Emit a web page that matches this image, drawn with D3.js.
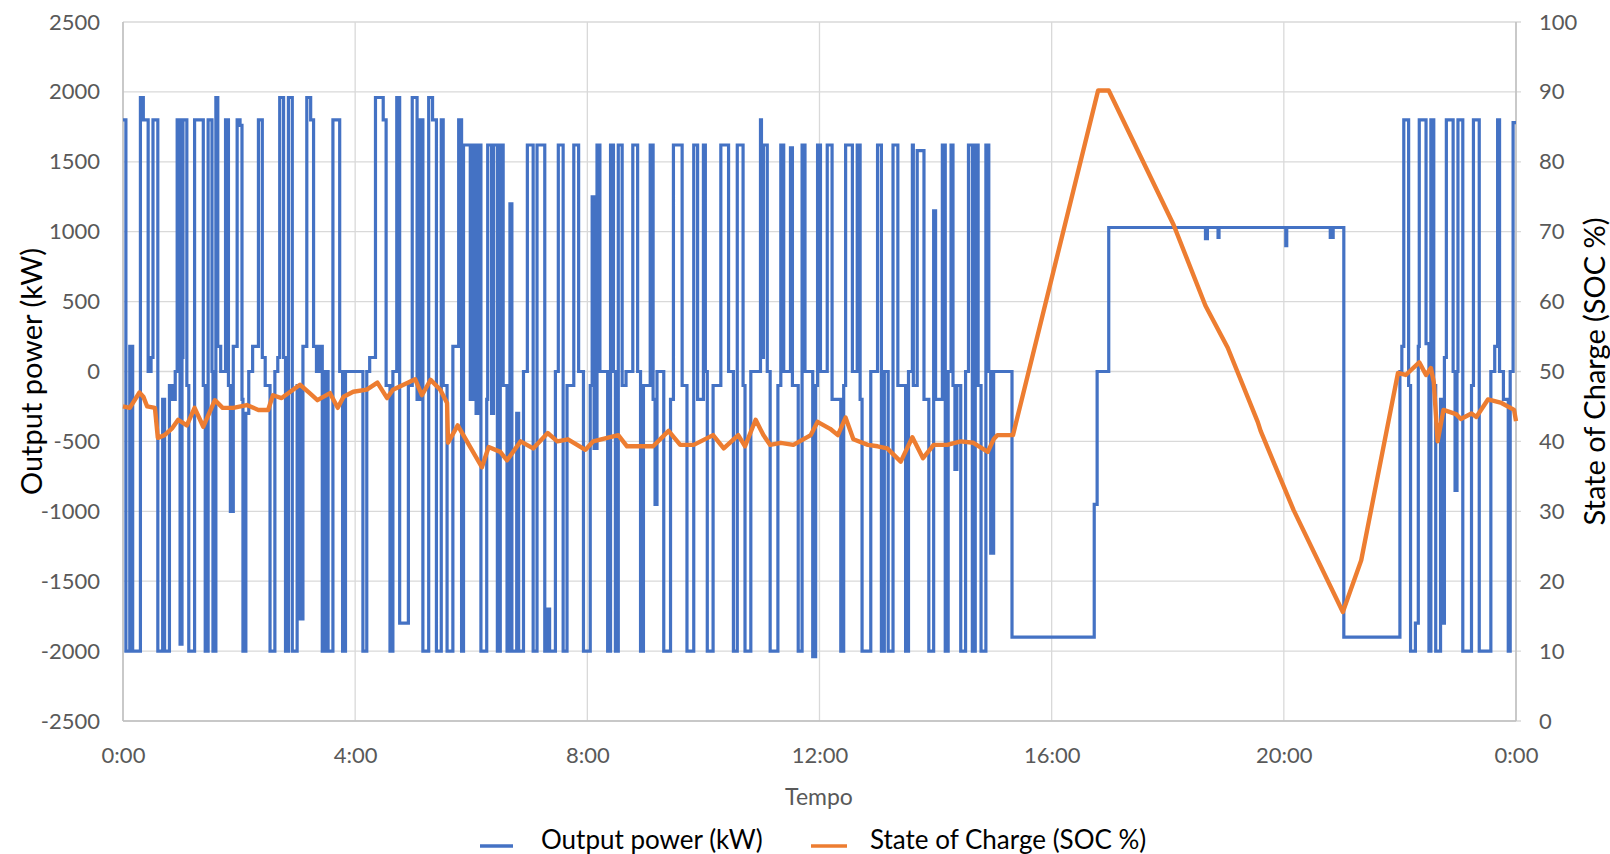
<!DOCTYPE html>
<html><head><meta charset="utf-8">
<script src="https://cdn.jsdelivr.net/npm/d3@7"></script>
<style>body{margin:0;background:#fff;} text{font-family:Lato,"Open Sans",sans-serif;}</style>
</head><body><svg id="c" width="1610" height="854"></svg>
<script>
// ---- data (time in minutes since 0:00) ----
const powerTime = [0,3,7,10,18,21,26,29,31,36,41,43,48,51,54,56,59,61,62,66,68,74,83,85,88,92,93,96,98,101,106,109,111,114,118,121,123,124,127,130,134,140,144,147,152,157,160,162,166,168,171,175,180,183,186,190,194,197,200,203,206,209,212,217,224,227,230,248,252,255,261,269,272,276,279,283,286,295,299,304,307,310,316,320,324,329,331,335,341,347,350,352,359,362,365,367,370,376,377,381,383,387,390,393,397,400,402,407,409,414,418,424,428,436,439,441,447,450,455,459,466,471,476,483,485,487,490,493,501,504,507,509,512,516,520,527,532,535,538,545,548,550,552,559,566,569,578,583,590,594,600,602,604,610,618,626,631,635,641,643,649,659,660,662,666,669,677,680,683,690,692,698,702,705,713,716,718,721,728,733,742,745,747,754,759,762,764,773,780,784,787,791,796,801,809,812,816,817,821,828,833,838,840,847,850,853,856,858,860,862,866,871,874,878,881,884,887,892,895,897,900,919,1004,1007,1019,1119,1121,1132,1133,1202,1203,1248,1251,1262,1320,1322,1324,1329,1331,1336,1339,1340,1347,1350,1352,1355,1357,1362,1364,1366,1368,1375,1377,1379,1380,1385,1394,1396,1402,1414,1418,1421,1423,1427,1432,1434,1437,1440];
const powerKW = [1800,-2000,180,-2000,1960,1800,0,100,1800,-2000,-200,-2000,-100,-200,0,1800,-1950,100,1800,-100,-2000,1800,-100,-2000,1800,0,-2000,1960,180,0,1800,-100,-1000,180,1800,1760,-200,-2000,-300,0,180,1800,100,-100,-2000,0,100,1960,100,-2000,1960,-2000,-100,-1770,180,1960,1800,180,0,180,-2000,0,-2000,1800,0,-2000,0,-2000,0,100,1960,1800,-100,-2000,0,1960,-1800,-100,1960,-200,1800,-2000,1960,1800,-2000,1800,-100,-2000,180,1800,-2000,1620,-200,1620,-300,1620,-2000,-200,1620,-300,1620,-2000,1620,-100,-2000,1200,-2000,-300,-2000,0,1620,-2000,1620,-2000,-1700,-2000,0,1620,-2000,-100,1620,0,-2000,-100,1250,-550,1620,0,-2000,1620,0,-2000,1620,-100,0,1620,0,-2000,-100,1620,-200,-950,0,-2000,-200,1620,-100,-2000,1620,-200,1620,0,-2000,-100,1620,0,-2000,1620,-100,-2000,0,1800,100,1620,0,-2000,-100,1620,0,1600,-100,-2000,1620,0,-2040,-100,1620,0,1620,-200,-2000,-100,1620,0,1620,-200,-2000,0,1620,-2000,0,-2000,1620,-100,-2000,0,1620,-100,1580,-200,-2000,1150,-200,1620,-2000,0,1620,-100,-700,-100,-2000,0,1620,-2000,1620,-100,-2000,1620,0,-1300,0,-1900,-950,0,1030,950,1030,960,1030,900,1030,960,1030,-1900,0,180,1800,-100,-2000,-1800,180,1800,200,-2000,1800,-100,-2000,-200,-1800,100,1800,0,-850,0,1800,-2000,-100,1800,-2000,0,180,1800,0,-200,-2000,0,1780,1780];

const socTime = [0,7,17,21,25,33,36,43,51,57,66,74,83,95,103,114,128,140,150,155,164,183,193,201,214,222,228,238,252,263,273,279,302,309,318,328,335,336,346,356,371,378,390,397,411,424,439,449,460,478,486,512,521,548,564,576,590,610,621,636,643,654,662,669,680,693,711,718,731,739,747,755,770,780,790,804,816,827,838,852,866,879,894,900,904,920,1008,1019,1086,1119,1142,1173,1176,1210,1261,1280,1318,1326,1340,1347,1352,1355,1359,1365,1378,1383,1394,1399,1411,1425,1438,1440];
const socPct = [45.0,44.8,47.0,46.4,45.0,44.8,40.5,40.9,41.9,43.1,42.3,44.8,42.1,45.9,44.8,44.8,45.2,44.5,44.5,46.6,46.2,48.1,46.9,45.9,46.9,44.8,46.4,47.1,47.4,48.4,46.2,47.4,48.9,46.6,48.8,47.4,45.5,39.8,42.3,39.9,36.3,39.2,38.5,37.3,40.0,39.0,41.2,40.0,40.3,38.8,40.0,40.9,39.3,39.3,41.5,39.5,39.5,40.9,39.0,40.9,39.3,43.1,40.9,39.5,39.8,39.5,40.9,42.8,41.8,40.9,43.4,40.3,39.5,39.3,39.0,37.1,40.6,37.6,39.5,39.5,40.0,39.8,38.5,40.3,40.9,40.9,90.2,90.2,71.0,59.4,53.4,42.8,41.5,30.2,15.6,23.0,49.8,49.5,51.3,49.5,50.5,48.5,40.0,44.5,43.9,43.2,44.0,43.5,46.0,45.5,44.5,42.9];

const leftTicks = [-2500,-2000,-1500,-1000,-500,0,500,1000,1500,2000,2500];
const rightTicks = [0,10,20,30,40,50,60,70,80,90,100];
const timeTicks = [0,240,480,720,960,1200,1440];
const timeLabels = ["0:00","4:00","8:00","12:00","16:00","20:00","0:00"];
const seriesNames = ["Output power (kW)","State of Charge (SOC %)"];

// ---- layout ----
const L=123, R=1516, T=22, B=721;
const svg = d3.select("#c");
const x = d3.scaleLinear().domain([0,1440]).range([L,R]);
const yL = d3.scaleLinear().domain([-2500,2500]).range([B,T]);
const yR = d3.scaleLinear().domain([0,100]).range([B,T]);
const grid="#d9d9d9", axisCol="#bfbfbf", tickCol="#595959";

// gridlines
svg.append("g").selectAll("line").data(leftTicks).join("line")
  .attr("x1",L).attr("x2",R+5).attr("y1",d=>yL(d)).attr("y2",d=>yL(d))
  .attr("stroke",grid).attr("stroke-width",1.3);
svg.append("g").selectAll("line").data(timeTicks).join("line")
  .attr("x1",d=>x(d)).attr("x2",d=>x(d)).attr("y1",T).attr("y2",B)
  .attr("stroke",grid).attr("stroke-width",1.3);
// axis lines
svg.append("line").attr("x1",L).attr("x2",L).attr("y1",T).attr("y2",B).attr("stroke",axisCol).attr("stroke-width",1.5);
svg.append("line").attr("x1",R).attr("x2",R).attr("y1",T).attr("y2",B).attr("stroke",axisCol).attr("stroke-width",1.5);
svg.append("line").attr("x1",L).attr("x2",R).attr("y1",B).attr("y2",B).attr("stroke",axisCol).attr("stroke-width",1.5);

// axes via d3 axis generators (styled)
const fmt = d => String(d);
const gl = svg.append("g").attr("transform",`translate(${L},0)`)
  .call(d3.axisLeft(yL).tickValues(leftTicks).tickSize(0).tickPadding(23).tickFormat(fmt));
const gr = svg.append("g").attr("transform",`translate(${R},0)`)
  .call(d3.axisRight(yR).tickValues(rightTicks).tickSize(0).tickPadding(23).tickFormat(fmt));
const gb = svg.append("g").attr("transform",`translate(0,${B})`)
  .call(d3.axisBottom(x).tickValues(timeTicks).tickSize(0).tickPadding(26).tickFormat((d,i)=>timeLabels[i]));
[gl,gr,gb].forEach(g=>{g.select(".domain").remove();
  g.selectAll("text").attr("fill",tickCol).style("font-size","22px").style("font-family","Lato, sans-serif");});

// series
const pts = powerTime.map((t,i)=>[t,powerKW[i]]);
svg.append("path").datum(pts)
  .attr("d",d3.line().x(d=>x(d[0])).y(d=>yL(d[1])).curve(d3.curveStepAfter))
  .attr("fill","none").attr("stroke","#4472C4").attr("stroke-width",3.2).attr("stroke-linejoin","miter");
const spts = socTime.map((t,i)=>[t,socPct[i]]);
svg.append("path").datum(spts)
  .attr("d",d3.line().x(d=>x(d[0])).y(d=>yR(d[1])))
  .attr("fill","none").attr("stroke","#ED7D31").attr("stroke-width",4.4).attr("stroke-linejoin","round");

// titles
svg.append("text").attr("transform",`translate(30,${(T+B)/2}) rotate(-90)`)
  .attr("text-anchor","middle").attr("dominant-baseline","central")
  .attr("fill","#000").style("font-size","29px").text("Output power (kW)");
svg.append("text").attr("transform",`translate(1593,${(T+B)/2}) rotate(-90)`)
  .attr("text-anchor","middle").attr("dominant-baseline","central")
  .attr("fill","#000").style("font-size","29px").text("State of Charge (SOC %)");
svg.append("text").attr("x",819).attr("y",796).attr("text-anchor","middle").attr("dominant-baseline","central")
  .attr("fill",tickCol).style("font-size","23px").text("Tempo");

// legend
const legendX = [[480,513,541],[811,847,870]];
const legendCol = ["#4472C4","#ED7D31"];
seriesNames.forEach((n,i)=>{
  svg.append("line").attr("x1",legendX[i][0]).attr("x2",legendX[i][1]).attr("y1",846).attr("y2",846)
    .attr("stroke",legendCol[i]).attr("stroke-width",3.5);
  svg.append("text").attr("x",legendX[i][2]).attr("y",839).attr("dominant-baseline","central")
    .attr("fill","#000").style("font-size","26px").text(n);
});
</script></body></html>
